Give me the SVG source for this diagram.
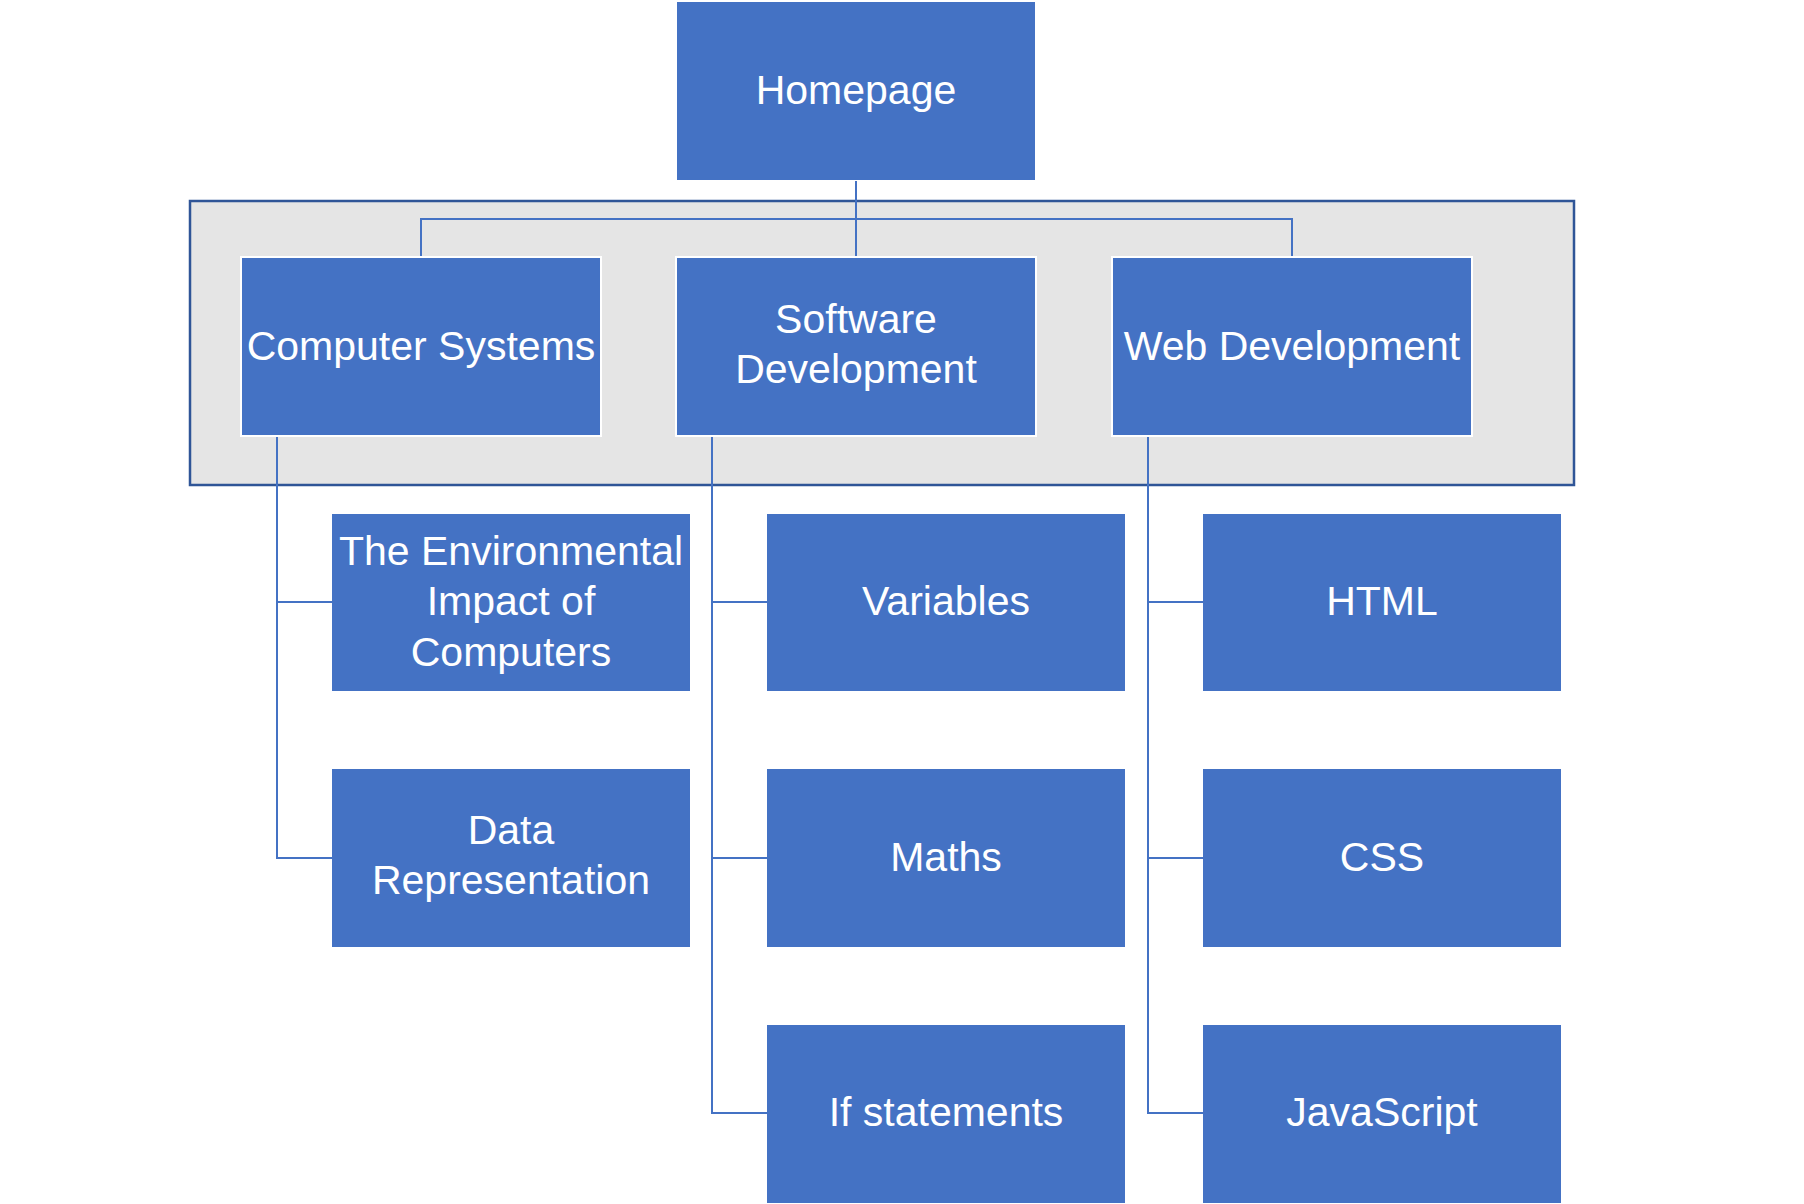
<svg xmlns="http://www.w3.org/2000/svg" width="1804" height="1204" viewBox="0 0 1804 1204">
<style>
.box{fill:#4472C4}
.top{fill:#4472C4;stroke:#FFFFFF;stroke-width:2}
.lbl{font-family:"Liberation Sans",Arial,sans-serif;font-size:41px;fill:#FFFFFF;text-anchor:middle}
.con{fill:none;stroke:#4472C4;stroke-width:2}
</style>
<rect x="0" y="0" width="1804" height="1204" fill="#FFFFFF"/>
<g id="group-frame">
<rect x="190" y="201" width="1384" height="284" fill="#E5E5E5" stroke="#2F5597" stroke-width="2.5"/>
</g>
<g id="connectors">
<path class="con" d="M856 181 V257"/>
<path class="con" d="M421 257 V219 H1292 V257"/>
<path class="con" d="M277 437 V858 H332 M277 602 H332"/>
<path class="con" d="M712 437 V1113 H767 M712 602 H767 M712 858 H767"/>
<path class="con" d="M1148 437 V1113 H1203 M1148 602 H1203 M1148 858 H1203"/>
</g>
<g id="node-homepage">
<rect class="box" x="677" y="2" width="358" height="178"/>
<text class="lbl" x="856" y="104">Homepage</text>
</g>
<g id="node-computer-systems">
<rect class="top" x="241" y="257" width="360" height="179"/>
<text class="lbl" x="421" y="360">Computer Systems</text>
</g>
<g id="node-software-development">
<rect class="top" x="676" y="257" width="360" height="179"/>
<text class="lbl" x="856" y="333">Software</text>
<text class="lbl" x="856" y="383">Development</text>
</g>
<g id="node-web-development">
<rect class="top" x="1112" y="257" width="360" height="179"/>
<text class="lbl" x="1292" y="360">Web Development</text>
</g>
<g id="node-environmental">
<rect class="box" x="332" y="514" width="358" height="177"/>
<text class="lbl" x="511" y="565">The Environmental</text>
<text class="lbl" x="511" y="615">Impact of</text>
<text class="lbl" x="511" y="666">Computers</text>
</g>
<g id="node-data-representation">
<rect class="box" x="332" y="769" width="358" height="178"/>
<text class="lbl" x="511" y="844">Data</text>
<text class="lbl" x="511" y="894">Representation</text>
</g>
<g id="node-variables">
<rect class="box" x="767" y="514" width="358" height="177"/>
<text class="lbl" x="946" y="615">Variables</text>
</g>
<g id="node-maths">
<rect class="box" x="767" y="769" width="358" height="178"/>
<text class="lbl" x="946" y="871">Maths</text>
</g>
<g id="node-if-statements">
<rect class="box" x="767" y="1025" width="358" height="178"/>
<text class="lbl" x="946" y="1126">If statements</text>
</g>
<g id="node-html">
<rect class="box" x="1203" y="514" width="358" height="177"/>
<text class="lbl" x="1382" y="615">HTML</text>
</g>
<g id="node-css">
<rect class="box" x="1203" y="769" width="358" height="178"/>
<text class="lbl" x="1382" y="871">CSS</text>
</g>
<g id="node-javascript">
<rect class="box" x="1203" y="1025" width="358" height="178"/>
<text class="lbl" x="1382" y="1126">JavaScript</text>
</g>
</svg>
